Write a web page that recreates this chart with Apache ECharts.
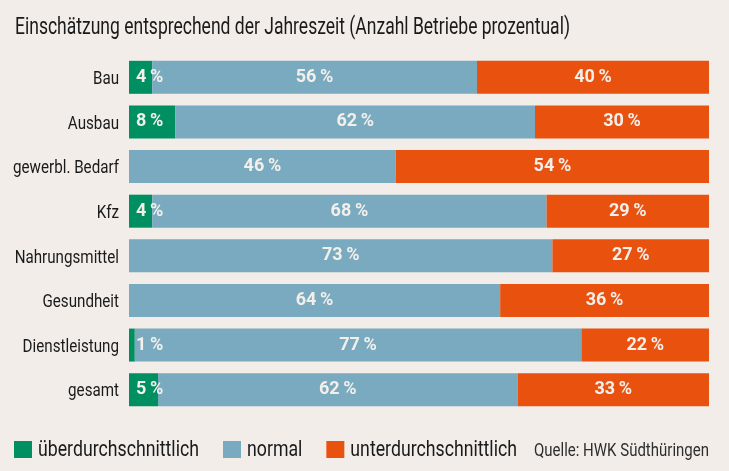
<!DOCTYPE html>
<html><head><meta charset="utf-8">
<script src="https://cdn.jsdelivr.net/npm/echarts@6/dist/echarts.min.js"></script>
<style>html,body{margin:0;padding:0;background:#f2ede9;}#c{width:729px;height:471px;}</style>
</head><body><div id="c"></div>
<script>
const categories = ["Bau","Ausbau","gewerbl. Bedarf","Kfz","Nahrungsmittel","Gesundheit","Dienstleistung","gesamt"];
const ueber = [4, 8, 0, 4, 0, 0, 1, 5];
const normal = [56, 62, 46, 68, 73, 64, 77, 62];
const unter = [40, 30, 54, 29, 27, 36, 22, 33];
const seriesNames = ["überdurchschnittlich","normal","unterdurchschnittlich"];
const colors = ["#008f60","#79aabf","#e9510f"];
const titleText = "Einschätzung entsprechend der Jahreszeit (Anzahl Betriebe prozentual)";
const sourceText = "Quelle: HWK Südthüringen";

const FAM = "Roboto";
const cv = document.createElement('canvas').getContext('2d');
function textW(t, size, weight){ cv.font = (weight||'normal') + ' ' + size + 'px ' + FAM; return cv.measureText(t).width; }

// condensed look: squeeze text horizontally
const CAT_SIZE = 19;
const catScale = 106 / textW("gewerbl. Bedarf", CAT_SIZE);
const TITLE_SIZE = 23;
const titleScale = 555 / textW(titleText, TITLE_SIZE);
const LEG_SIZE = 22;
const legScale = 161 / textW(seriesNames[0], LEG_SIZE);
const SRC_SIZE = 18;
const srcScale = 175 / textW(sourceText, SRC_SIZE);

const graphics = [];
graphics.push({type:'text', x:15, y:28, scaleX:titleScale,
  style:{text:titleText, fontFamily:FAM, fontSize:TITLE_SIZE, fill:'#1a1a1a', verticalAlign:'middle', align:'left'}});
let lx = 14;
seriesNames.forEach((n,i)=>{
  graphics.push({type:'rect', x:lx, y:441, shape:{width:18, height:17}, style:{fill:colors[i]}});
  const tx = lx + 24;
  graphics.push({type:'text', x:tx, y:450.5, scaleX:legScale,
    style:{text:n, fontFamily:FAM, fontSize:LEG_SIZE, fill:'#1a1a1a', verticalAlign:'middle', align:'left'}});
  lx = tx + textW(n, LEG_SIZE)*legScale + 24;
});
graphics.push({type:'text', x:lx - 7, y:451, scaleX:srcScale,
  style:{text:sourceText, fontFamily:FAM, fontSize:SRC_SIZE, fill:'#2e2e2e', verticalAlign:'middle', align:'left'}});

const fmt = p => p.value ? p.value + '\u2009%' : '';
const lbl = (pos, dist) => ({show:true, position:pos, distance:dist, formatter:fmt, color:'#f3efea', fontFamily:FAM, fontWeight:'bold', fontSize:18});

const chart = echarts.init(document.getElementById('c'));
chart.setOption({
  backgroundColor:'#f2ede9',
  animation:false,
  graphic:graphics,
  grid:{left:129, right:20, top:55, height:357},
  xAxis:{type:'value', min:0, max:100, show:false},
  yAxis:{type:'category', data:categories, inverse:true,
    axisLine:{show:false}, axisTick:{show:false}, axisLabel:{show:false}},
  series:[
    {name:seriesNames[0], type:'bar', stack:'s', data:ueber, barWidth:33, itemStyle:{color:colors[0]}, label:lbl('insideLeft',7)},
    {name:seriesNames[1], type:'bar', stack:'s', data:normal, barWidth:33, itemStyle:{color:colors[1]}, label:lbl('inside',0)},
    {name:seriesNames[2], type:'bar', stack:'s', data:unter, barWidth:33, itemStyle:{color:colors[2]}, label:lbl('inside',0)},
    {type:'custom', data:categories.map((c,i)=>[0,i]), silent:true, z:5,
      renderItem:(params, api)=>{
        const p = api.coord([0, api.value(1)]);
        return {type:'text', x:p[0]-10, y:p[1]+2, scaleX:catScale,
          style:{text:categories[api.value(1)], fontFamily:FAM, fontSize:CAT_SIZE, fill:'#1a1a1a', align:'right', verticalAlign:'middle'}};
      }}
  ]
});
</script></body></html>
